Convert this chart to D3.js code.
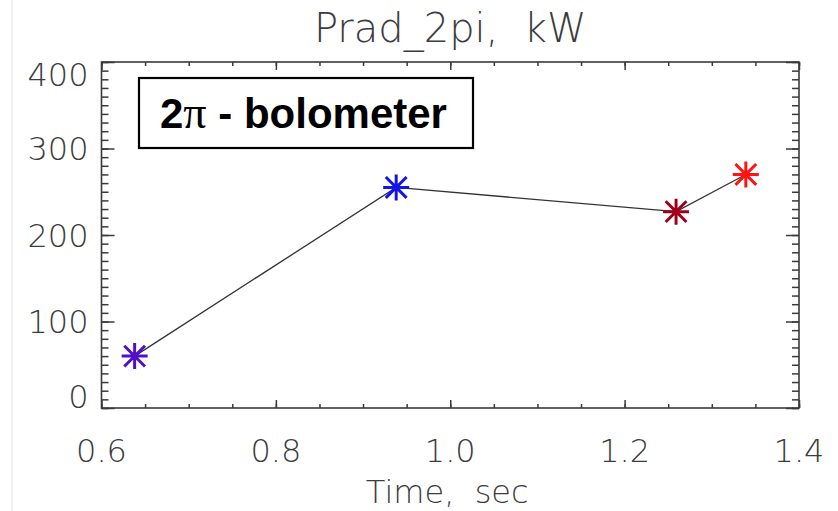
<!DOCTYPE html>
<html>
<head>
<meta charset="utf-8">
<script src="https://cdn.jsdelivr.net/npm/d3@7"></script>
<style>
  body { margin: 0; background: #fff; }
  svg { display: block; }
  .lbl { font-family: "DejaVu Sans", sans-serif; font-weight: 200; fill: #3c3c3c; white-space: pre; }
</style>
</head>
<body>
<script>
// values
const times = [0.638, 0.938, 1.259, 1.339];
const prad = [60, 255, 227, 270];
const pointColors = ["#5010c8", "#1414e6", "#a0001a", "#ff1414"];
const xTicks = [0.6, 0.8, 1.0, 1.2, 1.4];
const yTicks = [0, 100, 200, 300, 400];
const title = "Prad_2pi,  kW";
const xTitle = "Time,  sec";

const w = 838, h = 511;
const plotL = 101.5, plotR = 799, plotT = 62, plotB = 408;

const svg = d3.select("body").append("svg")
    .attr("width", w)
    .attr("height", h);

// faint slide edge
svg.append("line")
    .attr("x1", 12).attr("x2", 12).attr("y1", 0).attr("y2", h)
    .attr("stroke", "#ebebeb").attr("stroke-width", 1.5);

const x = d3.scaleLinear().domain([0.6, 1.4]).range([plotL, plotR]);
const y = d3.scaleLinear().domain([0, 400]).range([plotB, plotT]);

const xMinor = d3.range(0.6, 1.4001, 0.05);
const yMinor = d3.range(0, 400.1, 10);

// inward ticks on all four sides
function addAxis(axis, tx, ty) {
    const g = svg.append("g")
        .attr("transform", `translate(${tx},${ty})`)
        .call(axis);
    g.select(".domain").remove();
    g.selectAll("line").attr("stroke", "#3a3a3a").attr("stroke-width", 1.5);
}
addAxis(d3.axisBottom(x).tickValues(xMinor).tickSize(-4).tickSizeOuter(0).tickFormat(""), 0, plotB);
addAxis(d3.axisBottom(x).tickValues(xTicks).tickSize(-8).tickSizeOuter(0).tickFormat(""), 0, plotB);
addAxis(d3.axisTop(x).tickValues(xMinor).tickSize(-4).tickSizeOuter(0).tickFormat(""), 0, plotT);
addAxis(d3.axisTop(x).tickValues(xTicks).tickSize(-8).tickSizeOuter(0).tickFormat(""), 0, plotT);
addAxis(d3.axisLeft(y).tickValues(yMinor).tickSize(-7).tickSizeOuter(0).tickFormat(""), plotL, 0);
addAxis(d3.axisLeft(y).tickValues(yTicks).tickSize(-13).tickSizeOuter(0).tickFormat(""), plotL, 0);
addAxis(d3.axisRight(y).tickValues(yMinor).tickSize(-7).tickSizeOuter(0).tickFormat(""), plotR, 0);
addAxis(d3.axisRight(y).tickValues(yTicks).tickSize(-13).tickSizeOuter(0).tickFormat(""), plotR, 0);

svg.append("rect")
    .attr("x", plotL).attr("y", plotT)
    .attr("width", plotR - plotL).attr("height", plotB - plotT)
    .attr("fill", "none")
    .attr("stroke", "#3a3a3a")
    .attr("stroke-width", 1.6);

// tick labels (end labels kept inside the frame, as in the original)
svg.selectAll(".ylab")
    .data(yTicks)
    .enter()
    .append("text")
    .attr("class", "lbl ylab")
    .attr("x", plotL - 13)
    .attr("y", (d) => Math.max(plotT + 12, Math.min(plotB - 12, y(d))))
    .attr("dy", "0.36em")
    .attr("text-anchor", "end")
    .style("font-size", "32px")
    .text((d) => d);

svg.selectAll(".xlab")
    .data(xTicks)
    .enter()
    .append("text")
    .attr("class", "lbl xlab")
    .attr("x", (d) => x(d))
    .attr("y", 461.5)
    .attr("text-anchor", "middle")
    .style("font-size", "32px")
    .text((d) => d3.format(".1f")(d));

svg.append("text")
    .attr("class", "lbl")
    .attr("x", (plotL + plotR) / 2 - 3)
    .attr("y", 503)
    .attr("text-anchor", "middle")
    .style("font-size", "32px")
    .text(xTitle);

svg.append("text")
    .attr("class", "lbl")
    .attr("x", (plotL + plotR) / 2)
    .attr("y", 42)
    .attr("text-anchor", "middle")
    .style("font-size", "40px")
    .text(title);

// connecting line, then asterisks
const pts = times.map((t, i) => ({ t: t, v: prad[i], c: pointColors[i] }));

svg.append("path")
    .datum(pts)
    .attr("fill", "none")
    .attr("stroke", "#333")
    .attr("stroke-width", 1.3)
    .attr("d", d3.line().x((d) => x(d.t)).y((d) => y(d.v)));

const r = 13, rd = r * 0.8;
const star = `M${-r},0L${r},0M0,${-r}L0,${r}M${-rd},${-rd}L${rd},${rd}M${-rd},${rd}L${rd},${-rd}`;

svg.selectAll(".star")
    .data(pts)
    .enter()
    .append("path")
    .attr("class", "star")
    .attr("transform", (d) => `translate(${x(d.t)},${y(d.v)})`)
    .attr("d", star)
    .attr("fill", "none")
    .attr("stroke", (d) => d.c)
    .attr("stroke-width", 3);

// label box
svg.append("rect")
    .attr("x", 139).attr("y", 78)
    .attr("width", 334).attr("height", 70)
    .attr("fill", "#fff")
    .attr("stroke", "#000")
    .attr("stroke-width", 2.2);

const boxText = svg.append("text")
    .attr("x", 160)
    .attr("y", 128)
    .style("font-family", "'Liberation Sans', Arial, sans-serif")
    .style("font-weight", "bold")
    .style("font-size", "42px")
    .attr("fill", "#000");
boxText.append("tspan").text("2");
boxText.append("tspan")
    .style("font-family", "'Liberation Serif', serif")
    .style("font-weight", "normal")
    .style("font-size", "46px")
    .text("\u03c0");
boxText.append("tspan").text(" - bolometer");
</script>
</body>
</html>
